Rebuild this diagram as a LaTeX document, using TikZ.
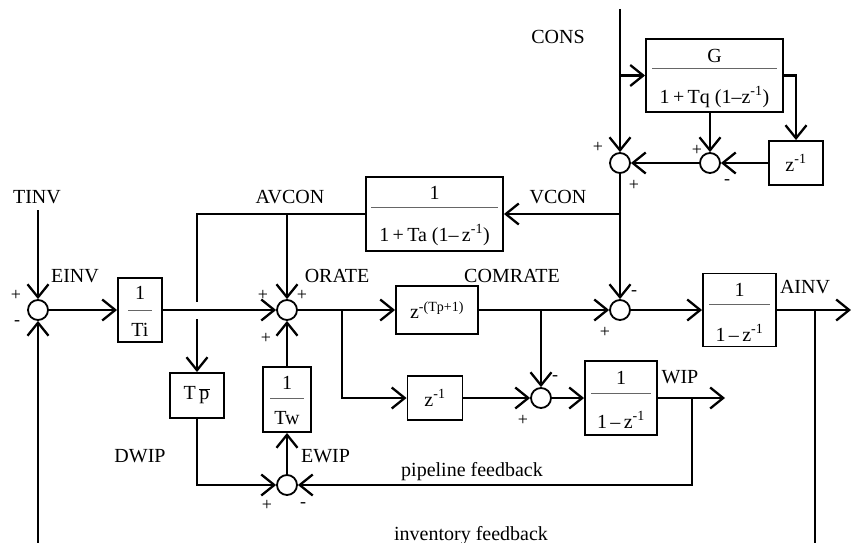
\documentclass[tikz,border=0pt]{standalone}
\usepackage{fontspec}
\setmainfont{Liberation Serif}
\usetikzlibrary{arrows.meta,calc}
\begin{document}
\begin{tikzpicture}[x=1pt,y=-1pt,
  every node/.style={font=\fontsize{20}{23}\selectfont},
  blk/.style={draw,line width=1.9pt,inner sep=0pt},
  sumc/.style={draw,circle,line width=1.8pt,minimum size=20pt,inner sep=0pt},
  sig/.style={line width=2.3pt},
  arr/.style={sig,-{Straight Barb[length=13pt,width=21pt,line width=2.3pt]}},
  lbl/.style={inner sep=0pt,anchor=base},
  sgn/.style={inner sep=0pt,font=\fontsize{18}{21}\selectfont},
  fl/.style={line width=1pt,black!60},
  txt/.style={inner sep=0pt}
]
\useasboundingbox (0,0) rectangle (851,543);

% summing junctions
\node[sumc] (c0) at (38,310) {};
\node[sumc] (c5) at (287,310) {};
\node[sumc] (c3) at (620,310) {};
\node[sumc] (c1) at (620,163) {};
\node[sumc] (c2) at (710,163) {};
\node[sumc] (c4) at (541,398) {};
\node[sumc] (c6) at (287,485) {};

% blocks
\node[blk,minimum width=137pt,minimum height=73pt] (G) at (714.5,75.5) {};
\node[txt] (Gn) at ($(G.center)+(0,-19.5)$) {G};
\node[txt] (Gd) at ($(G.center)+(0,21.5)$) {1\,+\,Tq (1–z\textsuperscript{-1})};
\draw[fl] ($(G.west)+(7,-6.5)$) -- ($(G.east)+(-7,-6.5)$);

\node[blk,minimum width=54pt,minimum height=44pt] (zq) at (796,163) {z\textsuperscript{-1}};

\node[blk,minimum width=137pt,minimum height=74pt] (Ta) at (434.5,214) {};
\node[txt] (Tan) at ($(Ta.center)+(0,-21)$) {1};
\node[txt] (Tad) at ($(Ta.center)+(0,21)$) {1\,+\,Ta (1–\,z\textsuperscript{-1})};
\draw[fl] ($(Ta.west)+(6,-7)$) -- ($(Ta.east)+(-6,-7)$);

\node[blk,minimum width=44pt,minimum height=64pt] (Ti) at (140,310) {};
\node[txt] (Tin) at ($(Ti.center)+(0,-17)$) {1};
\node[txt] (Tid) at ($(Ti.center)+(0,20)$) {Ti};
\draw[fl] ($(Ti.center)+(-12,0)$) -- ($(Ti.center)+(12,0)$);

\node[blk,minimum width=54pt,minimum height=45pt] (Tp) at (197,395.5) {T\,$\overline{\hbox{p\kern1pt}}$};

\node[blk,minimum width=48pt,minimum height=65pt] (Tw) at (287,399.5) {};
\node[txt] (Twn) at ($(Tw.center)+(0,-16.5)$) {1};
\node[txt] (Twd) at ($(Tw.center)+(0,18.5)$) {Tw};
\draw[fl] ($(Tw.center)+(-17,-1.5)$) -- ($(Tw.center)+(17,-1.5)$);

\node[blk,minimum width=82pt,minimum height=48pt] (zd) at (437,310) {z\textsuperscript{-(Tp+1)}};

\node[blk,minimum width=55pt,minimum height=44pt] (z1) at (435,398) {z\textsuperscript{-1}};

\node[blk,minimum width=72pt,minimum height=74pt] (W) at (621,398) {};
\node[txt] (Wn) at ($(W.center)+(0,-20)$) {1};
\node[txt] (Wd) at ($(W.center)+(0,22)$) {1\,–\,z\textsuperscript{-1}};
\draw[fl] ($(W.west)+(7,-5)$) -- ($(W.east)+(-7,-5)$);

\node[blk,minimum width=73pt,minimum height=73pt] (A) at (739.5,310) {};
\node[txt] (An) at ($(A.center)+(0,-20)$) {1};
\node[txt] (Ad) at ($(A.center)+(0,23)$) {1\,–\,z\textsuperscript{-1}};
\draw[fl] ($(A.west)+(7,-6)$) -- ($(A.east)+(-7,-6)$);

% free-end coordinates
\coordinate (consTop) at (620,9);
\coordinate (bG) at (620,75.5);
\coordinate (bV) at (620,214);
\coordinate (aL) at (197,214);
\coordinate (aG) at (197,302);
\coordinate (tpS) at (197,319);
\coordinate (tinvTop) at (38,210);
\coordinate (c0bot) at (38,543);
\coordinate (b1) at (342,310);
\coordinate (b2) at (541,310);
\coordinate (b3) at (692,398);
\coordinate (wOut) at (725,398);
\coordinate (aOut) at (851,310);
\coordinate (b4) at (815,310);
\coordinate (b4d) at (815,543);

% connectors
\draw[arr] (consTop) -- (c1);
\draw[arr] (bG) -- (G.west);
\draw[arr] (G.east) -| (zq.north);
\draw[arr] (G.south -| c2) -- (c2);
\draw[arr] (zq.west) -- (c2);
\draw[arr] (c2) -- (c1);
\draw[arr] (c1) -- (c3);
\draw[arr] (bV) -- (Ta.east);
\draw[sig] (Ta.west) -- (aL) -- (aG);
\draw[arr] (c5 |- Ta.west) -- (c5);
\draw[arr] (tinvTop) -- (c0);
\draw[arr] (c0bot) -- (c0);
\draw[arr] (c0) -- (Ti);
\draw[arr] (Ti) -- (c5);
\draw[arr] (tpS) -- (Tp.north);
\draw[arr] (Tp.south) |- (c6);
\draw[arr] (c6) -- (Tw.south);
\draw[arr] (Tw.north) -- (c5);
\draw[arr] (c5) -- (zd);
\draw[arr] (b1) |- (z1.west);
\draw[arr] (zd) -- (c3);
\draw[arr] (b2) -- (c4);
\draw[arr] (z1) -- (c4);
\draw[arr] (c4) -- (W);
\draw[arr] (W.east) -- (wOut);
\draw[arr] (b3) |- (c6);
\draw[arr] (c3) -- (A);
\draw[arr] (A.east) -- (aOut);
\draw[sig] (b4) -- (b4d);

% labels
\node[lbl] (lCONS) at (558,43.5) {CONS};
\node[lbl] (lTINV) at (37,203) {TINV};
\node[lbl] (lEINV) at (75,282) {EINV};
\node[lbl] (lAVCON) at (290,203) {AVCON};
\node[lbl] (lORATE) at (337,282) {ORATE};
\node[lbl] (lVCON) at (558,203) {VCON};
\node[lbl] (lCOMRATE) at (512,282) {COMRATE};
\node[lbl] (lAINV) at (805,293) {AINV};
\node[lbl] (lWIP) at (680,383) {WIP};
\node[lbl] (lDWIP) at (140,462) {DWIP};
\node[lbl] (lEWIP) at (325.5,462) {EWIP};
\node[lbl] (lpipe) at (472,476) {pipeline feedback};
\node[lbl] (linv) at (471,540) {inventory feedback};

% signs
\node[sgn] (s1a) at (598,147) {+};
\node[sgn] (s1b) at (634,185) {+};
\node[sgn] (s2a) at (697,150) {+};
\node[sgn] (s2b) at (727,182) {-};
\node[sgn] (s3a) at (634,293) {-};
\node[sgn] (s3b) at (605,332) {+};
\node[sgn] (s0a) at (16,295) {+};
\node[sgn] (s0b) at (17,323) {-};
\node[sgn] (s5a) at (263,295) {+};
\node[sgn] (s5b) at (302,295) {+};
\node[sgn] (s5c) at (266,338) {+};
\node[sgn] (s4a) at (555,378) {-};
\node[sgn] (s4b) at (523,420) {+};
\node[sgn] (s6a) at (267,505) {+};
\node[sgn] (s6b) at (303,505) {-};
\end{tikzpicture}
\end{document}
